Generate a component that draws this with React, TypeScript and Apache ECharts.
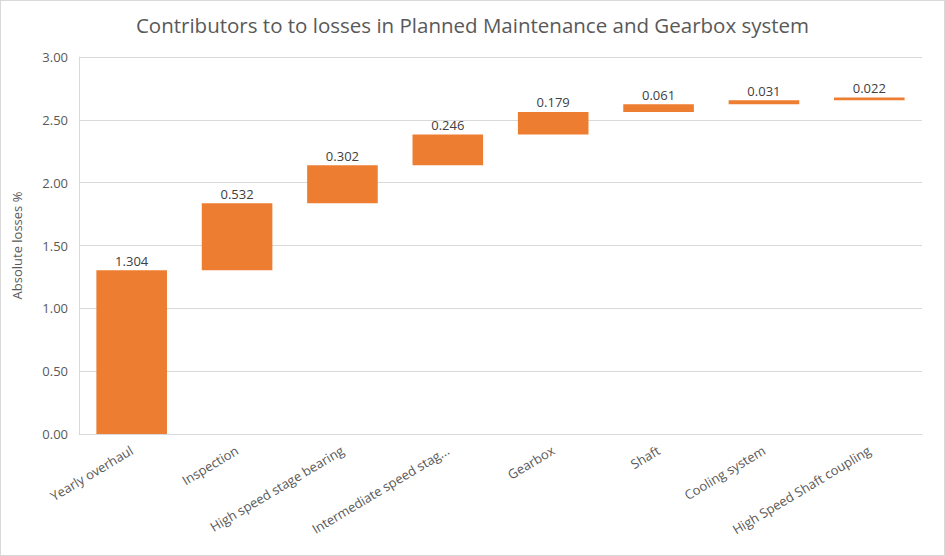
import React, { useEffect, useRef } from "react";
import * as echarts from "echarts";

const categories = [
  "Yearly overhaul",
  "Inspection",
  "High speed stage bearing",
  "Intermediate speed stag...",
  "Gearbox",
  "Shaft",
  "Cooling system",
  "High Speed Shaft coupling",
];
const losses = [1.304, 0.532, 0.302, 0.246, 0.179, 0.061, 0.031, 0.022];
const yTicks = { min: 0, max: 3, interval: 0.5 };

export default function App() {
  const ref = useRef<HTMLDivElement>(null);
  useEffect(() => {
    if (!ref.current) return;
    const chart = echarts.init(ref.current, undefined, { renderer: "svg" });
    const bases: number[] = [];
    let acc = 0;
    for (const v of losses) {
      bases.push(+acc.toFixed(3));
      acc += v;
    }
    const font = "'Open Sans', 'Noto Sans', sans-serif";
    chart.setOption({
      animation: false,
      backgroundColor: "#ffffff",
      title: {
        text: "Contributors to to losses in Planned Maintenance and Gearbox system",
        left: "center",
        top: 8,
        textStyle: { fontFamily: font, fontSize: 20.5, fontWeight: "normal", color: "#595959" },
      },
      grid: { left: 78, right: 22, top: 56, bottom: 121, containLabel: false },
      xAxis: {
        type: "category",
        data: categories,
        axisLine: { show: true, lineStyle: { color: "#d9d9d9" } },
        axisTick: { show: false },
        axisLabel: {
          rotate: 31,
          interval: 0,
          margin: 15,
          fontFamily: font,
          fontSize: 13,
          color: "#595959",
        },
      },
      yAxis: {
        type: "value",
        min: yTicks.min,
        max: yTicks.max,
        interval: yTicks.interval,
        name: "Absolute losses %",
        nameLocation: "middle",
        nameGap: 56,
        nameTextStyle: { fontFamily: font, fontSize: 13, color: "#595959" },
        axisLine: { show: true, lineStyle: { color: "#d9d9d9" } },
        axisTick: { show: false },
        splitLine: { lineStyle: { color: "#d9d9d9" } },
        axisLabel: {
          formatter: (v: number) => v.toFixed(2),
          fontFamily: font,
          fontSize: 13,
          color: "#595959",
          margin: 11,
        },
      },
      series: [
        {
          type: "bar",
          stack: "w",
          data: bases,
          itemStyle: { color: "transparent" },
          emphasis: { disabled: true },
          silent: true,
          barCategoryGap: "33%",
        },
        {
          type: "bar",
          stack: "w",
          data: losses,
          itemStyle: { color: "#ed7d31" },
          barCategoryGap: "33%",
          label: {
            show: true,
            position: "top",
            distance: 3,
            formatter: (p: any) => p.value.toFixed(3),
            fontFamily: font,
            fontSize: 13,
            color: "#404040",
          },
        },
      ],
    });
    return () => chart.dispose();
  }, []);
  return (
    <div
      style={{
        position: "fixed",
        left: 0,
        top: 0,
        width: 945,
        height: 556,
        boxSizing: "border-box",
        border: "1px solid #d9d9d9",
        background: "#fff",
      }}
    >
      <div ref={ref} style={{ width: 943, height: 554 }} />
    </div>
  );
}
